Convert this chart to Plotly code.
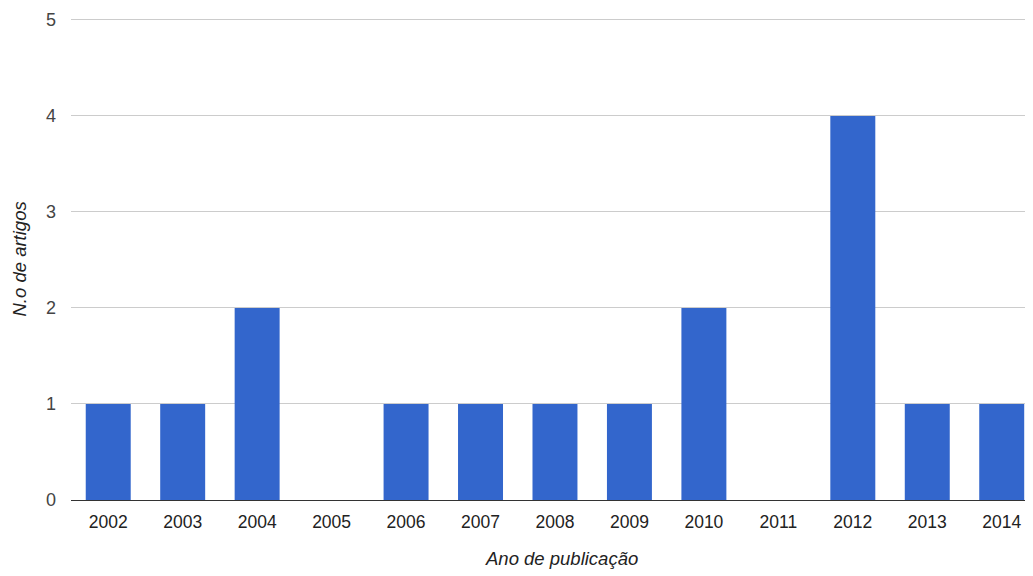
import plotly.graph_objects as go

anos = ["2002", "2003", "2004", "2005", "2006", "2007", "2008",
        "2009", "2010", "2011", "2012", "2013", "2014"]
artigos = [1, 1, 2, 0, 1, 1, 1, 1, 2, 0, 4, 1, 1]
y_ticks = [0, 1, 2, 3, 4, 5]

FONT = "Liberation Sans, Arial, sans-serif"

fig = go.Figure(go.Bar(
    x=anos, y=artigos,
    marker=dict(color="#3366cc", line=dict(width=0)),
    hoverinfo="x+y",
))

fig.update_layout(
    width=1025, height=568,
    margin=dict(l=62.5, r=0, t=10, b=76, autoexpand=False),
    paper_bgcolor="white", plot_bgcolor="white",
    bargap=0.396,
    showlegend=False,
    font=dict(family=FONT, size=17.5, color="#444444"),
    xaxis=dict(
        type="category",
        range=[-0.5, 12.42],
        showgrid=False,
        showline=False,
        ticks="",
        tickfont=dict(size=17.5, color="#222222"),
        ticklabelstandoff=9,
    ),
    yaxis=dict(
        range=[0, 5.02],
        tickvals=y_ticks,
        showgrid=True, gridcolor="#cccccc", gridwidth=1,
        zeroline=True, zerolinecolor="#333333", zerolinewidth=1.2,
        showline=False,
        ticks="",
        tickfont=dict(size=18, color="#444444"),
        ticklabelstandoff=14,
    ),
    annotations=[
        dict(text="Ano de publicação", xref="paper", yref="paper",
             x=0.510, y=0, yshift=-58, xanchor="center", yanchor="middle",
             showarrow=False,
             font=dict(size=18.5, color="#222222", style="italic")),
        dict(text="N.o de artigos", xref="paper", yref="paper",
             x=0, y=0.5, xshift=-52.5, xanchor="center", yanchor="middle",
             textangle=-90, showarrow=False,
             font=dict(size=18.5, color="#222222", style="italic")),
    ],
)

fig.write_html("out.html")
